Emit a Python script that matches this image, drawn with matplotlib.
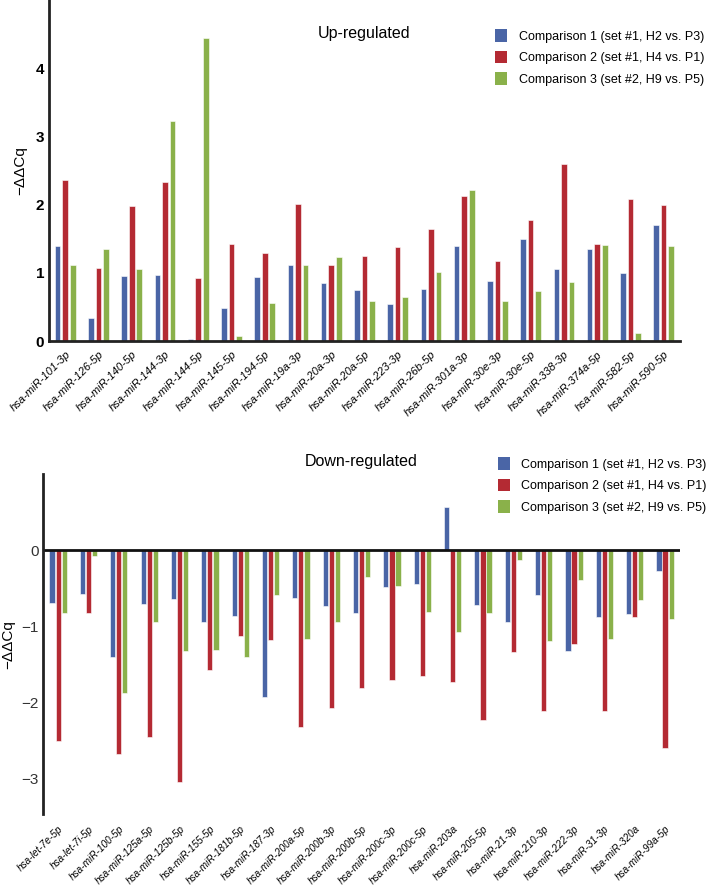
import numpy as np
import matplotlib.pyplot as plt
from matplotlib.patches import Patch

# -- data --
up_labels = ['hsa-miR-101-3p', 'hsa-miR-126-5p', 'hsa-miR-140-5p', 'hsa-miR-144-3p',
             'hsa-miR-144-5p', 'hsa-miR-145-5p', 'hsa-miR-194-5p', 'hsa-miR-19a-3p',
             'hsa-miR-20a-3p', 'hsa-miR-20a-5p', 'hsa-miR-223-3p', 'hsa-miR-26b-5p',
             'hsa-miR-301a-3p', 'hsa-miR-30e-3p', 'hsa-miR-30e-5p', 'hsa-miR-338-3p',
             'hsa-miR-374a-5p', 'hsa-miR-582-5p', 'hsa-miR-590-5p']
up_c1 = [1.40, 0.34, 0.95, 0.97, 0.03, 0.49, 0.94, 1.12, 0.85, 0.75,
         0.55, 0.77, 1.39, 0.88, 1.49, 1.05, 1.35, 1.00, 1.70]
up_c2 = [2.36, 1.07, 1.98, 2.33, 0.92, 1.42, 1.29, 2.01, 1.12, 1.25,
         1.38, 1.64, 2.13, 1.18, 1.77, 2.60, 1.42, 2.09, 2.00]
up_c3 = [1.11, 1.35, 1.05, 3.23, 4.44, 0.07, 0.56, 1.12, 1.24, 0.59,
         0.64, 1.01, 2.21, 0.59, 0.74, 0.86, 1.41, 0.12, 1.40]

down_labels = ['hsa-let-7e-5p', 'hsa-let-7i-5p', 'hsa-miR-100-5p', 'hsa-miR-125a-5p',
               'hsa-miR-125b-5p', 'hsa-miR-155-5p', 'hsa-miR-181b-5p', 'hsa-miR-187-3p',
               'hsa-miR-200a-5p', 'hsa-miR-200b-3p', 'hsa-miR-200b-5p', 'hsa-miR-200c-3p',
               'hsa-miR-200c-5p', 'hsa-miR-203a', 'hsa-miR-205-5p', 'hsa-miR-21-3p',
               'hsa-miR-210-3p', 'hsa-miR-222-3p', 'hsa-miR-31-3p', 'hsa-miR-320a',
               'hsa-miR-99a-5p']
down_c1 = [-0.70, -0.57, -1.40, -0.71, -0.64, -0.94, -0.87, -1.93, -0.63, -0.73, -0.82,
           -0.49, -0.44, 0.57, -0.72, -0.94, -0.59, -1.33, -0.88, -0.84, -0.28]
down_c2 = [-2.51, -0.82, -2.68, -2.45, -3.05, -1.57, -1.13, -1.18, -2.33, -2.07, -1.81,
           -1.70, -1.66, -1.73, -2.23, -1.34, -2.12, -1.23, -2.12, -0.88, -2.60]
down_c3 = [-0.82, -0.08, -1.88, -0.95, -1.32, -1.31, -1.40, -0.59, -1.17, -0.94, -0.35,
           -0.47, -0.81, -1.08, -0.83, -0.13, -1.19, -0.39, -1.17, -0.65, -0.90]

series_names = ['Comparison 1 (set #1, H2 vs. P3)',
                'Comparison 2 (set #1, H4 vs. P1)',
                'Comparison 3 (set #2, H9 vs. P5)']
colors = ['#4a65a6', '#b42a33', '#8ab14a']

plt.rcParams['font.family'] = ['Liberation Sans', 'DejaVu Sans']
tickfont = ['Liberation Sans Narrow', 'Liberation Sans']

fig = plt.figure(figsize=(7.09, 8.86), dpi=100)
ax1 = fig.add_axes([0.069, 0.615, 0.890, 0.385])
ax2 = fig.add_axes([0.061, 0.081, 0.898, 0.384])


def draw(ax, labels, vals, step, width, fs):
    x = np.arange(len(labels))
    for k, v in enumerate(vals):
        ax.bar(x + (k - 1) * step, v, width, color=colors[k],
               edgecolor='white', linewidth=0.4)
    ax.set_xticks(x)
    ax.set_xticklabels(labels, rotation=45, ha='right', va='top',
                       rotation_mode='anchor', style='italic',
                       family=tickfont, fontsize=fs)
    ax.set_xlim(-0.49, len(labels) - 0.51)
    ax.tick_params(axis='both', length=0)
    for s in ['top', 'right']:
        ax.spines[s].set_visible(False)
    ax.spines['left'].set_linewidth(2)
    ax.spines['left'].set_color('#222222')
    handles = [Patch(facecolor=c) for c in colors]
    return handles


def add_legend(h, x0, y0):
    fig.legend(h, series_names, loc='upper left', bbox_to_anchor=(x0, y0),
               frameon=False, fontsize=9, handlelength=1.0, handleheight=1.2,
               handletextpad=0.9, labelspacing=0.62, borderpad=0,
               borderaxespad=0)


h = draw(ax1, up_labels, [up_c1, up_c2, up_c3], 0.227, 0.17, 8)
ax1.set_ylim(0, 5.0)
ax1.set_yticks([0, 1, 2, 3, 4])
ax1.set_yticklabels(['0', '1', '2', '3', '4'], fontweight='bold', fontsize=11,
                    family=tickfont)
ax1.tick_params(axis='x', pad=6)
ax1.spines['bottom'].set_linewidth(2)
ax1.spines['bottom'].set_color('#222222')
ax1.set_ylabel('\u2212\u0394\u0394Cq', fontsize=11, labelpad=6)
fig.text(0.513, 0.962, 'Up-regulated', ha='center', va='center', fontsize=11.5)
add_legend(h, 0.698, 0.967)

h = draw(ax2, down_labels, [down_c1, down_c2, down_c3], 0.2, 0.17, 7.2)
ax2.set_ylim(-3.47, 1.0)
ax2.set_yticks([0, -1, -2, -3])
ax2.set_yticklabels(['0', '\u22121', '\u22122', '\u22123'], fontsize=11,
                    family=tickfont, color='#333333')
ax2.tick_params(axis='x', pad=7)
ax2.spines['bottom'].set_visible(False)
ax2.axhline(0, color='#111111', linewidth=2)
ax2.set_ylabel('\u2212\u0394\u0394Cq', fontsize=11, labelpad=4)
fig.text(0.509, 0.479, 'Down-regulated', ha='center', va='center', fontsize=11.5)
add_legend(h, 0.702, 0.484)

fig.savefig('out.png', dpi=100)
